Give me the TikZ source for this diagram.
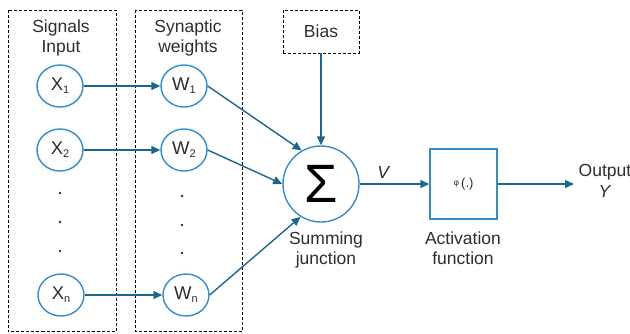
\documentclass[tikz,border=0pt]{standalone}
\usepackage{fontspec}
\setmainfont{Liberation Sans}
\usetikzlibrary{arrows.meta,shapes.geometric}
\definecolor{ringblue}{RGB}{52,140,205}
\definecolor{arrowteal}{RGB}{28,104,140}
\definecolor{ink}{RGB}{45,45,45}
\newcommand{\sub}[1]{\raisebox{-3pt}{\fontsize{11}{11}\selectfont #1}}
\begin{document}
\begin{tikzpicture}[x=1pt,y=-1pt,
  unit/.style={ellipse, draw=ringblue, line width=1.4pt, minimum width=46pt,
    minimum height=42pt, inner sep=0pt, text=ink, font=\fontsize{18.5}{20}\selectfont},
  frame/.style={draw=black, dash pattern=on 3pt off 2pt, line width=0.9pt},
  link/.style={draw=arrowteal, line width=1.4pt, -{Triangle[length=9pt,width=8pt]}},
  caption/.style={text=ink, font=\fontsize{17.5}{20.5}\selectfont, align=center},
  dot/.style={circle, fill=ink, inner sep=0pt, minimum size=2.8pt}]

\useasboundingbox (0,0) rectangle (630,333);

% dashed column frames
\draw[frame] (8,10) rectangle (116,331.5);
\draw[frame] (135,10) rectangle (242,331.5);

\node[caption] (inhead) at (61,38) {Signals\\Input};
\node[caption] (whead) at (188,38) {Synaptic\\weights};

% inputs
\node[unit] (x1) at (60,86) {X\sub{1}};
\node[unit] (x2) at (60,150) {X\sub{2}};
\node[unit] (xn) at (61,295) {X\sub{n}};
\node[dot] (xd1) at (60,193) {};
\node[dot] (xd2) at (60,222) {};
\node[dot] (xd3) at (60,251) {};

% weights
\node[unit] (w1) at (184,86) {W\sub{1}};
\node[unit] (w2) at (184,150) {W\sub{2}};
\node[unit] (wn) at (186,295) {W\sub{n}};
\node[dot] (wd1) at (182,196) {};
\node[dot] (wd2) at (182,225) {};
\node[dot] (wd3) at (182,253) {};

% summing junction, bias, activation
\node[circle, draw=ringblue, line width=1.4pt, minimum size=76pt, inner sep=0pt,
  font=\fontsize{54}{54}\selectfont] (sum) at (321,184) {\raisebox{1pt}{Σ}};
\node[draw=black, dash pattern=on 3pt off 2pt, line width=0.9pt, minimum width=76pt,
  minimum height=43pt, inner sep=0pt, text=ink, font=\fontsize{17.5}{20}\selectfont]
  (bias) at (321,31.5) {Bias};
\node[draw=ringblue, line width=1.4pt, minimum width=67pt, minimum height=70pt,
  inner sep=0pt, text=ink, font=\fontsize{13}{14}\selectfont] (act) at (463.5,184)
  {\raisebox{1.5pt}{\fontsize{8.5}{8.5}\selectfont φ}\,(.)};

\node[caption] (sumlbl) at (326,250) {Summing\\junction};
\node[caption] (actlbl) at (463,248) {Activation\\function};
\node[caption] (vlbl) at (384,172) {\textit{V}};
\node[caption] (out) at (605,181) {Output\\\textit{Y}};
\coordinate (outtip) at (574,184);

% connectors
\draw[link] (x1) -- (w1);
\draw[link] (x2) -- (w2);
\draw[link] (xn) -- (wn);
\draw[link] (w1.east) -- (sum.120);
\draw[link] (w2.east) -- (sum.west);
\draw[link] (wn.east) -- (sum.238);
\draw[link] (bias.south) -- (sum.north);
\draw[link] (sum.east) -- (act.west);
\draw[link] (act.east) -- (outtip);
\end{tikzpicture}
\end{document}
